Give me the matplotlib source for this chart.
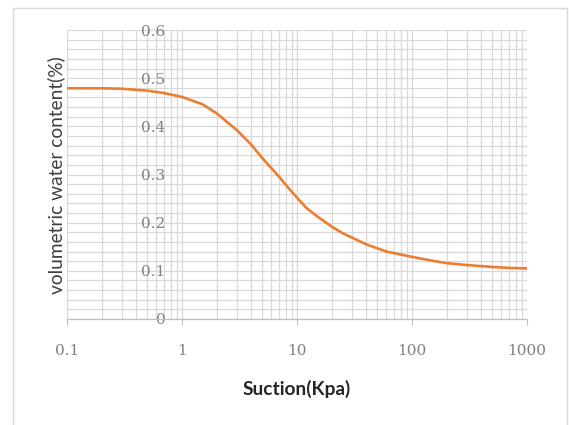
import matplotlib
matplotlib.use("Agg")
import matplotlib.pyplot as plt
from matplotlib.patches import Rectangle
from matplotlib.ticker import LogLocator, MultipleLocator, FixedLocator, NullFormatter

suction = [0.1, 0.2, 0.3, 0.5, 0.7, 1, 1.5, 2, 3, 4, 5, 6, 7, 8.5, 10, 12, 15,
           20, 25, 30, 40, 60, 100, 150, 200, 300, 500, 700, 1000]
theta = [0.479, 0.479, 0.478, 0.474, 0.469, 0.461, 0.446, 0.427, 0.392, 0.362,
         0.334, 0.313, 0.295, 0.271, 0.252, 0.231, 0.213, 0.192, 0.178, 0.169,
         0.155, 0.140, 0.129, 0.121, 0.116, 0.112, 0.108, 0.106, 0.105]
xticks = [0.1, 1, 10, 100, 1000]
xticklabels = ["0.1", "1", "10", "100", "1000"]
yticks = [0, 0.1, 0.2, 0.3, 0.4, 0.5, 0.6]
yticklabels = ["0", "0.1", "0.2", "0.3", "0.4", "0.5", "0.6"]

W, H = 569, 425
fig = plt.figure(figsize=(W / 100, H / 100), dpi=100)
fig.patch.set_facecolor("white")
fig.patches.append(Rectangle((13 / W, -0.02), (567 - 13) / W, (425 - 8) / H + 0.02,
                             transform=fig.transFigure, fill=False,
                             edgecolor="#d9d9d9", linewidth=1.0))

ax = fig.add_axes([67 / W, (H - 319) / H, (527 - 67) / W, (319 - 30) / H])
ax.set_xscale("log")
ax.set_xlim(0.1, 1000)
ax.set_ylim(0, 0.6)

grid_c = "#d9d9d9"
ax.xaxis.set_major_locator(FixedLocator(xticks))
ax.xaxis.set_minor_locator(LogLocator(base=10, subs=range(2, 10), numticks=20))
ax.xaxis.set_minor_formatter(NullFormatter())
ax.set_xticklabels(xticklabels)
ax.yaxis.set_major_locator(FixedLocator(yticks))
ax.yaxis.set_minor_locator(MultipleLocator(0.02))
ax.set_yticklabels(yticklabels)

ax.grid(True, which="both", color=grid_c, linewidth=0.9)
ax.set_axisbelow(True)

for s in ["top", "right", "left"]:
    ax.spines[s].set_visible(False)
ax.spines["bottom"].set_color("#bfbfbf")
ax.spines["bottom"].set_linewidth(0.9)

ax.tick_params(axis="x", which="major", direction="out", length=4, color="#bfbfbf",
               pad=14, labelsize=11, labelcolor="#808080")
ax.tick_params(axis="x", which="minor", length=0)
ax.tick_params(axis="y", which="both", length=0, pad=-71,
               labelsize=11, labelcolor="#808080")
for lbl in ax.get_xticklabels() + ax.get_yticklabels():
    lbl.set_family("DejaVu Serif")

ax.plot(suction, theta, color="#ED7D31", linewidth=1.9, solid_capstyle="butt",
        solid_joinstyle="round")

fig.text(56 / W, 1 - 175 / H, "volumetric water content(%)", rotation=90,
         ha="center", va="center", fontsize=13.8, color="#404040", family="Lato")
fig.text(297 / W, 1 - 389 / H, "Suction(Kpa)", ha="center", va="center",
         fontsize=13.8, fontweight="bold", color="#262626", family="Lato")

fig.savefig("out.png", dpi=100)
